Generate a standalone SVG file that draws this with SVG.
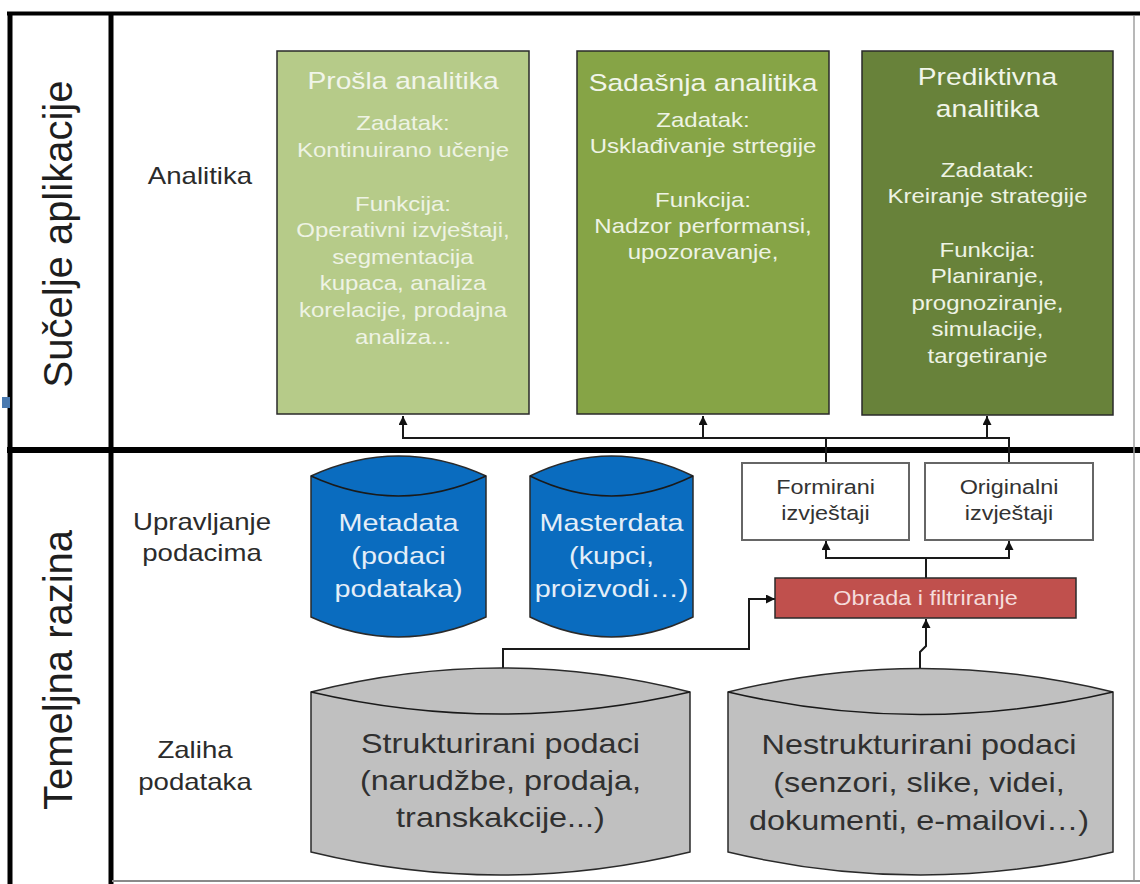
<svg xmlns="http://www.w3.org/2000/svg" width="1140" height="884" viewBox="0 0 1140 884">
<defs>
<marker id="ah" viewBox="0 0 10 10" refX="10" refY="5" markerWidth="9" markerHeight="9" markerUnits="userSpaceOnUse" orient="auto">
<path d="M0,0 L10,5 L0,10 z" fill="#111"/>
</marker>
<style>
text{font-family:"Liberation Sans",Arial,sans-serif;text-anchor:middle}
.side{font-size:40px;fill:#1e1e1e}
.lbl{font-size:23px;fill:#2b2b2b}
.ttl{font-size:23.5px;fill:#f1f5e9}
.body{font-size:20px;fill:#eef3e4}
.cyl{font-size:24px;fill:#e4eef8}
.rep{font-size:19.5px;fill:#333}
.red{font-size:19.5px;fill:#f5dcdb}
.gry{font-size:27px;fill:#303030}
.box{stroke:#2a2a2a;stroke-width:1.5}
.conn{fill:none;stroke:#1a1a1a;stroke-width:2}
.frame{stroke:#000;fill:none}
</style>
</defs>
<rect width="1140" height="884" fill="#fff"/>

<g id="frame">
<line class="frame" x1="7" y1="13.5" x2="1140" y2="13.5" stroke-width="4"/>
<line class="frame" x1="10" y1="12" x2="10" y2="884" stroke-width="5"/>
<line class="frame" x1="111" y1="12" x2="111" y2="884" stroke-width="5"/>
<line class="frame" x1="7" y1="450" x2="1140" y2="450" stroke-width="6"/>
<line x1="112" y1="881" x2="1140" y2="881" stroke="#8a8a8a" stroke-width="2"/>
<line x1="1134" y1="16" x2="1134" y2="880" stroke="#a0a0a0" stroke-width="1.5"/>
<rect x="2" y="397" width="8" height="11" fill="#4a7ab0"/>
</g>

<g id="side-labels">
<text class="side" transform="translate(72,234) rotate(-90)">Sučelje aplikacije</text>
<text class="side" transform="translate(72,670) rotate(-90)">Temeljna razina</text>
</g>

<g id="row-labels">
<text class="lbl" transform="translate(200,0) scale(1.2,1)"><tspan x="0" y="184">Analitika</tspan></text>
<text class="lbl" transform="translate(202,0) scale(1.2,1)"><tspan x="0" y="530">Upravljanje</tspan><tspan x="0" y="561">podacima</tspan></text>
<text class="lbl" transform="translate(195,0) scale(1.2,1)"><tspan x="0" y="758">Zaliha</tspan><tspan x="0" y="790">podataka</tspan></text>
</g>

<g id="connectors">
<path class="conn" stroke="#333" d="M1009,463 V438 H403 V416" marker-end="url(#ah)"/>
<path class="conn" stroke="#333" d="M703,438 V416" marker-end="url(#ah)"/>
<path class="conn" stroke="#333" d="M987,438 V416" marker-end="url(#ah)"/>
<path class="conn" d="M826,463 V438" stroke-width="3"/>
<path class="conn" d="M926,578 V558 H826 V541" marker-end="url(#ah)"/>
<path class="conn" d="M926,558 H1009 V541" marker-end="url(#ah)"/>
<path class="conn" d="M503,668 V649 H749 V599 H775" marker-end="url(#ah)"/>
<path class="conn" d="M920,669 V652 L926,646 V619" marker-end="url(#ah)"/>
</g>

<g id="prosla-analitika">
<rect class="box" x="277" y="51" width="252" height="363" fill="#b6cb89"/>
<text class="ttl" transform="translate(403,0) scale(1.2,1)"><tspan x="0" y="89">Prošla analitika</tspan></text>
<text class="body" transform="translate(403,0) scale(1.2,1)"><tspan x="0" y="130">Zadatak:</tspan><tspan x="0" y="157">Kontinuirano učenje</tspan><tspan x="0" y="211">Funkcija:</tspan><tspan x="0" y="237.5">Operativni izvještaji,</tspan><tspan x="0" y="264">segmentacija</tspan><tspan x="0" y="290.5">kupaca, analiza</tspan><tspan x="0" y="317">korelacije, prodajna</tspan><tspan x="0" y="344">analiza...</tspan></text>
</g>

<g id="sadasnja-analitika">
<rect class="box" x="577" y="51" width="252" height="363" fill="#86a446"/>
<text class="ttl" transform="translate(703,0) scale(1.2,1)"><tspan x="0" y="91">Sadašnja analitika</tspan></text>
<text class="body" transform="translate(703,0) scale(1.2,1)"><tspan x="0" y="127">Zadatak:</tspan><tspan x="0" y="153">Usklađivanje strtegije</tspan><tspan x="0" y="207">Funkcija:</tspan><tspan x="0" y="233">Nadzor performansi,</tspan><tspan x="0" y="259.5">upozoravanje,</tspan></text>
</g>

<g id="prediktivna-analitika">
<rect class="box" x="862" y="51" width="251" height="364" fill="#68823a"/>
<text class="ttl" transform="translate(987.5,0) scale(1.2,1)"><tspan x="0" y="85">Prediktivna</tspan><tspan x="0" y="117">analitika</tspan></text>
<text class="body" transform="translate(987.5,0) scale(1.2,1)"><tspan x="0" y="177">Zadatak:</tspan><tspan x="0" y="203.5">Kreiranje strategije</tspan><tspan x="0" y="257">Funkcija:</tspan><tspan x="0" y="283.5">Planiranje,</tspan><tspan x="0" y="310">prognoziranje,</tspan><tspan x="0" y="336.5">simulacije,</tspan><tspan x="0" y="363">targetiranje</tspan></text>
</g>

<g id="metadata">
<path class="box" fill="#0a6cbf" d="M311,476 Q398.5,436 486,476 V617 Q398.5,657 311,617 Z"/>
<path fill="none" stroke="#1a1a1a" stroke-width="1.5" d="M311,476 Q398.5,516 486,476"/>
<text class="cyl" transform="translate(398.5,0) scale(1.2,1)"><tspan x="0" y="531">Metadata</tspan><tspan x="0" y="564">(podaci</tspan><tspan x="0" y="597">podataka)</tspan></text>
</g>

<g id="masterdata">
<path class="box" fill="#0a6cbf" d="M530,476 Q611.5,436 693,476 V617 Q611.5,657 530,617 Z"/>
<path fill="none" stroke="#1a1a1a" stroke-width="1.5" d="M530,476 Q611.5,516 693,476"/>
<text class="cyl" transform="translate(611.5,0) scale(1.2,1)"><tspan x="0" y="531">Masterdata</tspan><tspan x="0" y="564">(kupci,</tspan><tspan x="0" y="597">proizvodi…)</tspan></text>
</g>

<g id="formirani-izvjestaji">
<rect x="742" y="463" width="167" height="77" fill="#fff" stroke="#666" stroke-width="2"/>
<text class="rep" transform="translate(825.5,0) scale(1.2,1)"><tspan x="0" y="494">Formirani</tspan><tspan x="0" y="520">izvještaji</tspan></text>
</g>

<g id="originalni-izvjestaji">
<rect x="925" y="463" width="168" height="77" fill="#fff" stroke="#666" stroke-width="2"/>
<text class="rep" transform="translate(1009,0) scale(1.2,1)"><tspan x="0" y="494">Originalni</tspan><tspan x="0" y="520">izvještaji</tspan></text>
</g>

<g id="obrada-filtriranje">
<rect class="box" x="775" y="578" width="301" height="40" fill="#c0504d"/>
<text class="red" transform="translate(925.5,0) scale(1.2,1)"><tspan x="0" y="605">Obrada i filtriranje</tspan></text>
</g>

<g id="strukturirani-podaci">
<path class="box" fill="#c0c0c0" d="M311,692 Q500.5,644 690,692 V852 Q500.5,898 311,852 Z"/>
<path fill="none" stroke="#1a1a1a" stroke-width="1.5" d="M311,692 Q500.5,736 690,692"/>
<text class="gry" transform="translate(500.5,0) scale(1.2,1)"><tspan x="0" y="753">Strukturirani podaci</tspan><tspan x="0" y="790">(narudžbe, prodaja,</tspan><tspan x="0" y="827">transkakcije...)</tspan></text>
</g>

<g id="nestrukturirani-podaci">
<path class="box" fill="#c0c0c0" d="M728,692 Q920.5,645 1113,692 V852 Q920.5,898 728,852 Z"/>
<path fill="none" stroke="#1a1a1a" stroke-width="1.5" d="M728,692 Q920.5,737 1113,692"/>
<text class="gry" transform="translate(919,0) scale(1.2,1)"><tspan x="0" y="754">Nestrukturirani podaci</tspan><tspan x="0" y="792">(senzori, slike, videi,</tspan><tspan x="0" y="830">dokumenti, e-mailovi…)</tspan></text>
</g>
</svg>
